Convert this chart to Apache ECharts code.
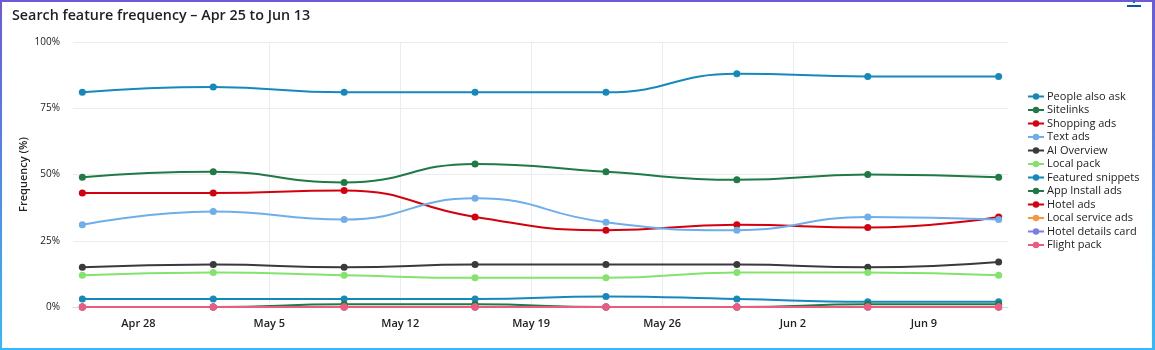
<!DOCTYPE html>
<html>
<head>
<meta charset="utf-8">
<script src="https://cdn.jsdelivr.net/npm/echarts@6/dist/echarts.min.js"></script>
<style>
  html, body { margin: 0; padding: 0; background: #fff; }
  #wrap { position: relative; width: 1155px; height: 350px; }
  #chart { position: absolute; left: 0; top: 0; width: 1155px; height: 350px; }
  #frame {
    position: absolute; left: 0; top: 0; width: 1155px; height: 350px;
    box-sizing: border-box; pointer-events: none;
    border-style: solid; border-width: 2px 3px 2px 2px;
    border-image: linear-gradient(to bottom, #6c5ad9, #35b9fa) 1;
  }
  #dl { position: absolute; left: 1127px; top: 0; width: 14px; height: 8px; pointer-events: none; }
  #dl .stem { position: absolute; left: 6px; top: 0; width: 2px; height: 3px; background: #1f6fc4; }
  #dl .base { position: absolute; left: 0; top: 5px; width: 14px; height: 2px; background: #0a56a8; }
</style>
</head>
<body>
<div id="wrap">
  <div id="chart"></div>
  <div id="frame"></div>
  <div id="dl"><div class="stem"></div><div class="base"></div></div>
</div>
<script>
// Weekly snapshots (2025)
const dates = ['2025-04-25', '2025-05-02', '2025-05-09', '2025-05-16', '2025-05-23', '2025-05-30', '2025-06-06', '2025-06-13'];
// Weekly tick labels, one every 7 days starting Apr 28
const tickLabels = ['Apr 28', 'May 5', 'May 12', 'May 19', 'May 26', 'Jun 2', 'Jun 9'];
const tickDates = ['2025-04-28', '2025-05-05', '2025-05-12', '2025-05-19', '2025-05-26', '2025-06-02', '2025-06-09'];
const yTicks = [0, 25, 50, 75, 100];

const seriesNames = ['People also ask', 'Sitelinks', 'Shopping ads', 'Text ads', 'AI Overview', 'Local pack',
  'Featured snippets', 'App Install ads', 'Hotel ads', 'Local service ads', 'Hotel details card', 'Flight pack'];

const peopleAlsoAsk   = [81, 83, 81, 81, 81, 88, 87, 87];
const sitelinks       = [49, 51, 47, 54, 51, 48, 50, 49];
const shoppingAds     = [43, 43, 44, 34, 29, 31, 30, 34];
const textAds         = [31, 36, 33, 41, 32, 29, 34, 33];
const aiOverview      = [15, 16, 15, 16, 16, 16, 15, 17];
const localPack       = [12, 13, 12, 11, 11, 13, 13, 12];
const featuredSnippets= [3, 3, 3, 3, 4, 3, 2, 2];
const appInstallAds   = [0, 0, 1, 1, 0, 0, 1, 1];
const hotelAds        = [0, 0, 0, 0, 0, 0, 0, 0];
const localServiceAds = [0, 0, 0, 0, 0, 0, 0, 0];
const hotelDetailsCard= [0, 0, 0, 0, 0, 0, 0, 0];
const flightPack      = [0, 0, 0, 0, 0, 0, 0, 0];

const seriesValues = [peopleAlsoAsk, sitelinks, shoppingAds, textAds, aiOverview, localPack,
  featuredSnippets, appInstallAds, hotelAds, localServiceAds, hotelDetailsCard, flightPack];

const colors = ['#1689bb', '#1f7a45', '#d4000e', '#6eaeea', '#3a3a3e', '#84e36c',
  '#1689bb', '#1f7a45', '#d4000e', '#f8973f', '#7b7ce6', '#ef5a7f'];

// x is measured in days from the first tick date
const DAY = 86400000;
const origin = Date.parse(tickDates[0]);
const dayOffset = d => Math.round((Date.parse(d) - origin) / DAY);
const xs = dates.map(dayOffset);
const tickXs = tickDates.map(dayOffset);

const chart = echarts.init(document.getElementById('chart'), null, { renderer: 'canvas' });

const FONT = '"Open Sans", "Noto Sans", sans-serif';

chart.setOption({
  animation: false,
  color: colors,
  textStyle: { fontFamily: FONT },
  title: {
    text: 'Search feature frequency \u2013 Apr 25 to Jun 13',
    left: 7, top: 4,
    textStyle: { fontFamily: FONT, fontSize: 14.3, fontWeight: 600, color: '#1f1f1f' }
  },
  legend: {
    orient: 'vertical',
    left: 1022, top: 86,
    itemWidth: 16, itemHeight: 8, itemGap: 2.5,
    data: seriesNames,
    textStyle: { fontFamily: FONT, fontSize: 11, color: '#222', padding: [0, 0, 0, -2] }
  },
  grid: { left: 73, right: 147, top: 42, bottom: 43, containLabel: false },
  xAxis: {
    type: 'value',
    min: xs[0] - 0.5,
    max: xs[xs.length - 1] + 0.5,
    axisLine: { show: true, lineStyle: { color: '#d3dcec', width: 1 } },
    axisTick: { show: false, customValues: tickXs },
    splitLine: { show: true, showMinLine: false, showMaxLine: false, lineStyle: { color: '#ececec', width: 1 } },
    axisLabel: {
      show: true,
      customValues: tickXs,
      margin: 11,
      fontFamily: FONT, fontSize: 11, fontWeight: 600, color: '#222',
      formatter: function (v) {
        const k = tickXs.indexOf(Math.round(v));
        return k >= 0 ? tickLabels[k] : '';
      }
    }
  },
  yAxis: {
    type: 'value',
    min: yTicks[0], max: yTicks[yTicks.length - 1], interval: 25,
    name: 'Frequency (%)',
    nameLocation: 'middle',
    nameGap: 44,
    nameMoveOverlap: false,
    nameTextStyle: { fontFamily: FONT, fontSize: 11, fontWeight: 600, color: '#222' },
    axisLine: { show: false },
    axisTick: { show: false },
    splitLine: { show: true, lineStyle: { color: '#ececec', width: 1 } },
    axisLabel: {
      margin: 13,
      fontFamily: FONT, fontSize: 10, color: '#222',
      formatter: v => v + '%'
    }
  },
  series: seriesNames.map((name, i) => ({
    name,
    type: 'line',
    smooth: 0.5,
    symbol: 'circle',
    symbolSize: 7,
    lineStyle: { width: 2 },
    itemStyle: { color: colors[i] },
    data: xs.map((x, k) => [x, seriesValues[i][k]])
  }))
});
</script>
</body>
</html>
